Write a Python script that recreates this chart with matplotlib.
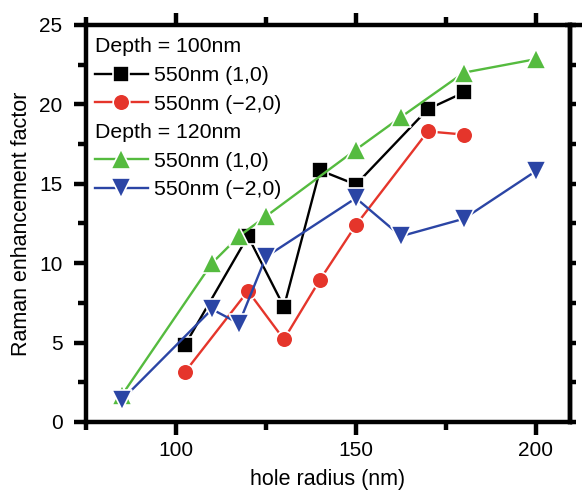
import matplotlib
matplotlib.use("Agg")
import matplotlib.pyplot as plt
from matplotlib.lines import Line2D
from matplotlib.ticker import MultipleLocator

plt.rcParams['font.family'] = ['Liberation Sans', 'DejaVu Sans']

# hole radius (nm) vs Raman enhancement
d100_x = [102.5, 120, 130, 140, 150, 170, 180]
d100_10 = [4.85, 11.7, 7.25, 15.85, 14.95, 19.7, 20.75]
d100_m20 = [3.15, 8.25, 5.2, 8.95, 12.4, 18.3, 18.1]

d120_x = [85, 110, 117.5, 125, 150, 162.5, 180, 200]
d120_10 = [1.7, 10.0, 11.7, 12.95, 17.15, 19.2, 22.0, 22.85]
d120_m20 = [1.4, 7.1, 6.2, 10.4, 14.1, 11.7, 12.8, 15.8]

labels = ['550nm (1,0)', '550nm (\u22122,0)']
headers = ['Depth = 100nm', 'Depth = 120nm']

black = 'black'
red = '#e5352b'
green = '#55bb3f'
blue = '#2b45a5'

fig = plt.figure(figsize=(5.82, 4.92), dpi=100)
ax = fig.add_axes([0.1478, 0.1423, 0.8316, 0.8069])

kw = dict(lw=1.7, markeredgecolor='white', markeredgewidth=1.2)
l1, = ax.plot(d100_x, d100_10, '-s', color=black, ms=11, **kw)
l2, = ax.plot(d100_x, d100_m20, '-o', color=red, ms=12, **kw)
l3, = ax.plot(d120_x, d120_10, '-^', color=green, ms=14, **kw)
l4, = ax.plot(d120_x, d120_m20, '-v', color=blue, ms=14, **kw)

ax.set_xlim(75, 209.5)
ax.set_ylim(0, 25)
ax.xaxis.set_major_locator(MultipleLocator(50))
ax.xaxis.set_minor_locator(MultipleLocator(25))
ax.yaxis.set_major_locator(MultipleLocator(5))
ax.yaxis.set_minor_locator(MultipleLocator(2.5))

for s in ax.spines.values():
    s.set_linewidth(3.2)
ax.tick_params(which='both', direction='out', width=3.2, labelsize=15,
               top=True, right=False)
ax.tick_params(which='major', length=9)
ax.tick_params(which='minor', length=5.5)
ax.tick_params(axis='y', pad=8)
ax.tick_params(axis='x', pad=5)

# right side: plain ticks every 2.5
sec = ax.secondary_yaxis('right')
sec.yaxis.set_major_locator(MultipleLocator(2.5))
sec.tick_params(direction='out', length=4.5, width=3.2, labelright=False)
sec.spines['right'].set_linewidth(3.2)

# top frame line runs on past the right edge
ax.add_line(Line2D([0.99, 1.05], [1, 1], transform=ax.transAxes, color='black',
                   lw=3.2, clip_on=False, solid_capstyle='butt'))

ax.set_xlabel('hole radius (nm)', fontsize=15.5, labelpad=6)
ax.set_ylabel('Raman enhancement factor', fontsize=15.5, labelpad=5)

blank = Line2D([], [], linestyle='none')
leg = ax.legend([blank, l1, l2, blank, l3, l4],
                [headers[0], labels[0], labels[1], headers[1], labels[0], labels[1]],
                loc='upper left', bbox_to_anchor=(0.0, 0.99), frameon=False,
                fontsize=15.3, handlelength=2.5, handletextpad=0.3,
                labelspacing=0.45, borderaxespad=0.0, borderpad=0.4,
                markerscale=1.0)
# header rows start where the handles start
fig.canvas.draw()
txts = leg.get_texts()
x_text = txts[1].get_window_extent().x0
x_handle = leg.get_window_extent().x0 + leg.borderpad * 15.3 * 100 / 72
for i in (0, 3):
    txts[i].set_x(-(x_text - x_handle))

fig.savefig('out.png', dpi=100)
